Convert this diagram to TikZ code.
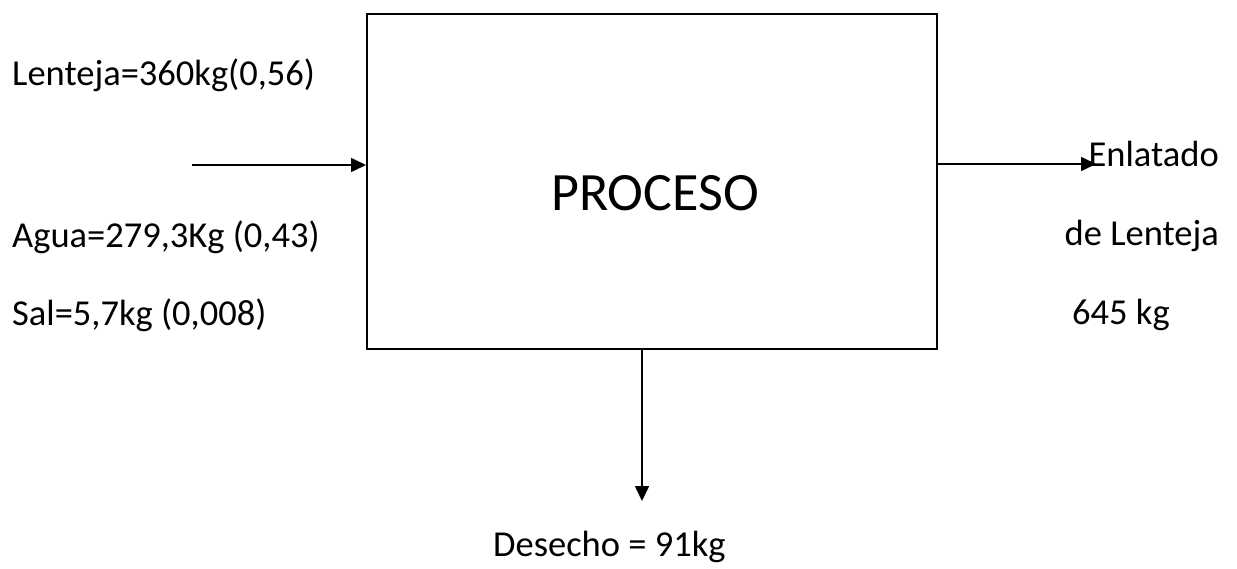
\documentclass[tikz,border=0pt]{standalone}
\usepackage{fontspec}
\setmainfont{Carlito}
\usetikzlibrary{arrows.meta}
\begin{document}
\begin{tikzpicture}[x=1pt,y=-1pt,
  lbl/.style={inner sep=0pt, font=\fontsize{36.5}{40}\selectfont},
  arr/.style={line width=1.6pt, -{Triangle[length=15pt,width=14pt]}},
  procbox/.style={draw, line width=1.6pt, inner sep=0pt, minimum width=570pt, minimum height=335pt}]
\useasboundingbox (0,0) rectangle (1237,568);
\node[procbox, anchor=north west] (box) at (366,13) {};
\node[inner sep=0pt, anchor=base, font=\fontsize{54}{58}\selectfont] (proc) at (655,210) {PROCESO};
\node[lbl, anchor=base west] (len) at (12,85) {Lenteja=360kg(0,56)};
\node[lbl, anchor=base west] (agua) at (12,247) {Agua=279,3Kg (0,43)};
\node[lbl, anchor=base west] (sal) at (12,325) {Sal=5,7kg (0,008)};
\node[lbl, anchor=base east] (enl) at (1219,166) {Enlatado};
\node[lbl, anchor=base east] (del) at (1219,245) {de Lenteja};
\node[lbl, anchor=base west] (kg) at (1072,324) {645 kg};
\node[lbl, anchor=base west] (des) at (493,556) {Desecho = 91kg};
\coordinate (inA) at (192,165);
\coordinate (outA) at (1096,164);
\coordinate (dTop) at (642,348);
\coordinate (dEnd) at (642,501);
\draw[arr] (inA) -- (inA -| box.west);
\draw[arr] (outA -| box.east) -- (outA);
\draw[arr] (dTop |- box.south) -- (dEnd);
\end{tikzpicture}
\end{document}
